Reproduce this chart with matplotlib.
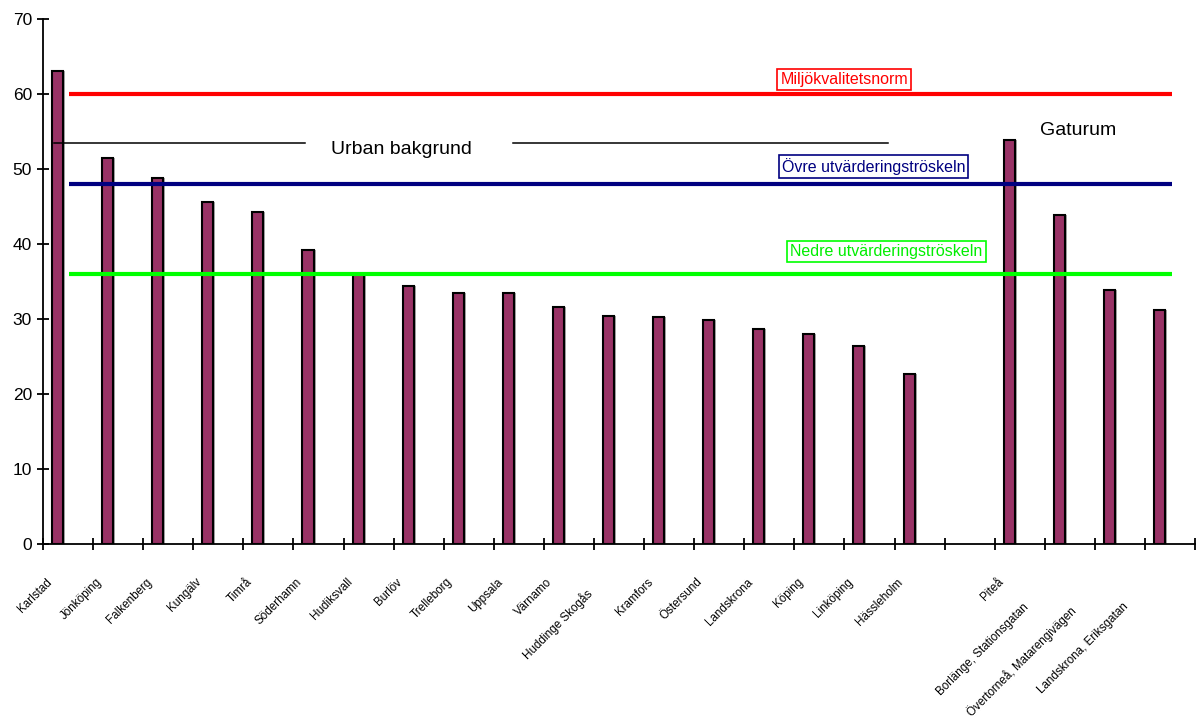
import numpy as np
import matplotlib
matplotlib.use("Agg")
import matplotlib.pyplot as plt
import matplotlib.transforms as mtransforms
from matplotlib import font_manager

plt.rcParams["font.family"] = ["Liberation Sans", "DejaVu Sans"]

# Årsmedelvärden per station (tom plats skiljer urban bakgrund från gaturum)
stationer = ["Karlstad", "Jönköping", "Falkenberg", "Kungälv", "Timrå", "Söderhamn",
             "Hudiksvall", "Burlöv", "Trelleborg", "Uppsala", "Värnamo", "Huddinge Skogås",
             "Kramfors", "Östersund", "Landskrona", "Köping", "Linköping", "Hässleholm",
             "", "Piteå", "Borlänge, Stationsgatan", "Övertorneå, Matarengivägen",
             "Landskrona, Eriksgatan"]
halter = [63.0, 51.5, 48.8, 45.6, 44.3, 39.2, 36.0, 34.4, 33.4, 33.4, 31.6, 30.4,
          30.2, 29.9, 28.6, 28.0, 26.4, 22.7, np.nan, 53.9, 43.8, 33.9, 31.2]

# Gränsvärden
miljokvalitetsnorm = 60
ovre_troskel = 48
nedre_troskel = 36

# smal stil för stationsnamnen om den finns
namn = {f.name for f in font_manager.fontManager.ttflist}
if "Liberation Sans Narrow" in namn:
    etikett_font = ["Liberation Sans Narrow", "DejaVu Sans"]
    etikett_storlek = 10
else:
    etikett_font = ["Liberation Sans", "DejaVu Sans"]
    etikett_storlek = 8.4

fig = plt.figure(figsize=(11.99, 7.17), dpi=100)
ax = fig.add_axes([0.0359, 0.2413, 0.9608, 0.7322])

x = np.arange(len(stationer))
# skugga bakom staplarna
ax.bar(x + 0.33, halter, width=0.22, color="#a6a6a6", align="center", zorder=1)
ax.bar(x + 0.29, halter, width=0.22, color="#993366", edgecolor="black",
       linewidth=1.5, align="center", zorder=2)

# referenslinjer
ax.hlines(miljokvalitetsnorm, 0.52, 22.54, color="#ff0000", lw=3, zorder=3)
ax.hlines(ovre_troskel, 0.52, 22.54, color="#000080", lw=3, zorder=3)
ax.hlines(nedre_troskel, 0.52, 22.54, color="#00ff00", lw=3, zorder=3)

ax.text(16.0, 61.9, "Miljökvalitetsnorm", color="#ff0000", fontsize=11.5,
        ha="center", va="center", zorder=4,
        bbox=dict(boxstyle="square,pad=0.2", fc="white", ec="#ff0000", lw=1.2))
ax.text(16.58, 50.3, "Övre utvärderingströskeln", color="#000080", fontsize=11.5,
        ha="center", va="center", zorder=4,
        bbox=dict(boxstyle="square,pad=0.2", fc="white", ec="#000080", lw=1.2))
ax.text(16.84, 39.0, "Nedre utvärderingströskeln", color="#00ee00", fontsize=11.5,
        ha="center", va="center", zorder=4,
        bbox=dict(boxstyle="square,pad=0.2", fc="white", ec="#00ff00", lw=1.2))

# gruppmarkeringar
ax.plot([0.22, 5.23], [53.5, 53.5], color="black", lw=1.1, zorder=3)
ax.plot([9.38, 16.87], [53.5, 53.5], color="black", lw=1.1, zorder=3)
ax.text(7.15, 52.6, "Urban bakgrund", fontsize=14, ha="center", va="center")
ax.text(20.66, 55.1, "Gaturum", fontsize=14, ha="center", va="center")

ax.set_xlim(0, len(stationer))
ax.set_ylim(0, 70)
ax.set_yticks(np.arange(0, 71, 10))
ax.tick_params(axis="y", direction="inout", length=8, width=1.3, labelsize=12.5, pad=4)

# tickstreck mellan kategorierna, etiketter vid staplarna
ax.set_xticks(np.arange(0, len(stationer) + 1))
ax.set_xticklabels([])
ax.tick_params(axis="x", which="major", direction="inout", length=8, width=1.3)
ax.set_xticks(x + 0.05, minor=True)
ax.set_xticklabels(stationer, minor=True, rotation=45, ha="right",
                   rotation_mode="anchor", fontsize=etikett_storlek,
                   fontfamily=etikett_font)
ax.tick_params(axis="x", which="minor", length=0, pad=23)

# långa etiketter hamnar längre ned
extra = {11: 11, 20: 25, 21: 28, 22: 25}
for i, lab in enumerate(ax.get_xticklabels(minor=True)):
    d = extra.get(i, 0)
    if d:
        lab.set_transform(lab.get_transform() +
                          mtransforms.ScaledTranslation(-d / 100, -d / 100, fig.dpi_scale_trans))

for s in ("top", "right"):
    ax.spines[s].set_visible(False)
for s in ("left", "bottom"):
    ax.spines[s].set_linewidth(1.3)

fig.savefig("out.png", dpi=100)
